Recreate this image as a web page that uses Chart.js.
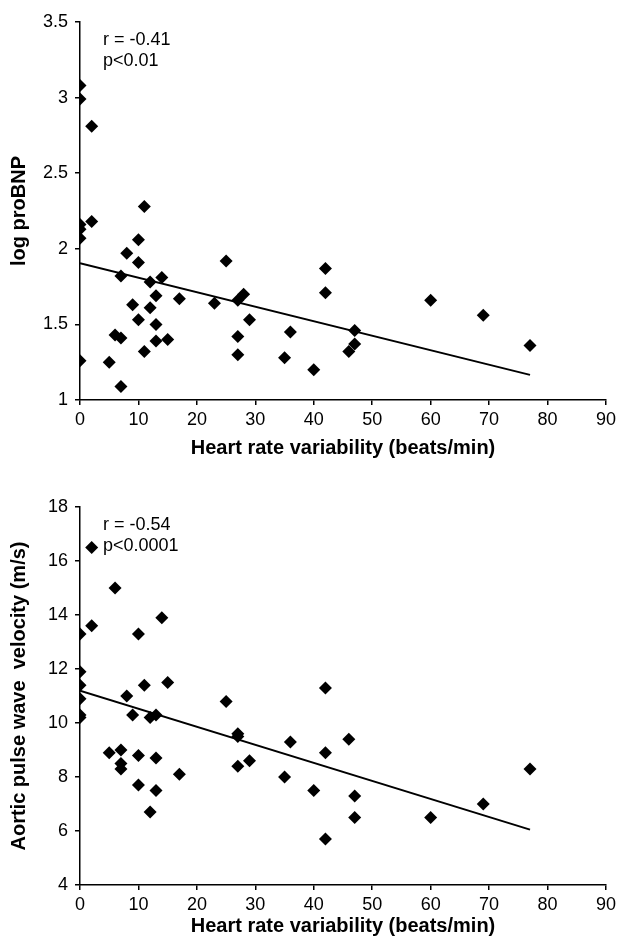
<!DOCTYPE html>
<html>
<head>
<meta charset="utf-8">
<script src="https://cdn.jsdelivr.net/npm/chart.js@4.4.0/dist/chart.umd.min.js"></script>
<style>
    body { margin: 0; background: #fff; }
    .wrap { position: absolute; left: 0; width: 620px; height: 460px; }
    #top { top: 0; }
    #bottom { top: 485px; }
</style>
</head>
<body>
<div class="wrap" id="top"><canvas id="bnpChart"></canvas></div>
<div class="wrap" id="bottom"><canvas id="pwvChart"></canvas></div>
<script>
// Heart rate variability (beats/min) vs log proBNP
const hrvBnp = [0, 0, 2, 0, 0, 0, 2, 0, 11, 10, 8, 10, 7, 14, 12, 13, 9, 12, 10, 13, 11, 6, 7, 5, 13, 15, 7,
    17, 23, 25, 27, 28, 27, 27, 29, 35, 36, 40, 42, 42, 47, 47, 46, 60, 69, 77];
const logProBnp = [3.08, 2.99, 2.81, 2.16, 2.13, 2.07, 2.18, 1.26, 2.28, 2.06, 1.97, 1.91, 1.82, 1.81, 1.78, 1.69, 1.63, 1.61, 1.53, 1.50, 1.32, 1.43, 1.41, 1.25, 1.39, 1.40, 1.09,
    1.67, 1.64, 1.92, 1.66, 1.70, 1.42, 1.30, 1.53, 1.28, 1.45, 1.20, 1.87, 1.71, 1.46, 1.37, 1.32, 1.66, 1.56, 1.36];
const bnpFitX = [0, 77];
const bnpFitY = [1.905, 1.166];

// Heart rate variability (beats/min) vs aortic pulse wave velocity (m/s)
const hrvPwv = [0, 0, 0, 0, 0, 0, 2, 2, 6, 10, 14, 15, 11, 8, 9, 12, 13, 5, 7, 7, 7, 10, 13, 10, 13, 12,
    17, 25, 27, 27, 27, 29, 35, 36, 40, 42, 42, 42, 46, 47, 47, 60, 69, 77];
const pwv = [11.9, 11.4, 10.9, 10.3, 10.2, 13.3, 16.5, 13.6, 15.0, 13.3, 13.9, 11.5, 11.4, 11.0, 10.3, 10.2, 10.3, 8.9, 9.0, 8.5, 8.3, 8.8, 8.7, 7.7, 7.5, 6.7,
    8.1, 10.8, 9.6, 9.5, 8.4, 8.6, 8.0, 9.3, 7.5, 11.3, 8.9, 5.7, 9.4, 7.3, 6.5, 6.5, 7.0, 8.3];
const pwvFitX = [0, 77];
const pwvFitY = [11.2, 6.05];

const xTitle = 'Heart rate variability (beats/min)';
const FONT = '"Liberation Sans", Arial, sans-serif';

Chart.defaults.font.family = FONT;
Chart.defaults.color = '#000';

const toPoints = (xs, ys) => xs.map((x, i) => ({ x: x, y: ys[i] }));

// draws the r / p text in the upper left of the plot
const statsLabel = {
    id: 'statsLabel',
    afterDraw(chart, args, opts) {
        const ctx = chart.ctx;
        const area = chart.chartArea;
        ctx.save();
        ctx.font = '18px ' + FONT;
        ctx.fillStyle = '#000';
        ctx.textBaseline = 'middle';
        opts.lines.forEach((line, i) => {
            ctx.fillText(line, area.left + 23, area.top + 18 + i * 21);
        });
        ctx.restore();
    }
};

function makeChart(id, xs, ys, fitX, fitY, yMin, yMax, yStep, yTitle, lines, titleGap) {
    return new Chart(document.getElementById(id), {
        type: 'scatter',
        data: {
            datasets: [{
                data: toPoints(xs, ys),
                pointStyle: 'rectRot',
                pointRadius: 6.5,
                pointHoverRadius: 6.5,
                backgroundColor: '#000',
                borderColor: '#000',
                borderWidth: 0
            }, {
                type: 'line',
                data: toPoints(fitX, fitY),
                borderColor: '#000',
                borderWidth: 2,
                pointRadius: 0,
                fill: false
            }]
        },
        options: {
            responsive: true,
            maintainAspectRatio: false,
            animation: false,
            layout: { padding: { top: 22, right: 13, left: 7, bottom: 0 } },
            plugins: {
                legend: { display: false },
                tooltip: { enabled: false },
                statsLabel: { lines: lines }
            },
            scales: {
                x: {
                    type: 'linear',
                    min: 0,
                    max: 90,
                    ticks: { stepSize: 10, font: { size: 18 }, padding: 4, maxRotation: 0 },
                    grid: { drawOnChartArea: false, tickLength: 5, color: '#000', lineWidth: 1.5 },
                    border: { color: '#000', width: 1.5 },
                    title: { display: true, text: xTitle, font: { size: 20, weight: 'bold' }, padding: { top: 0, bottom: titleGap } },
                    afterFit: s => { s.height = 60; }
                },
                y: {
                    min: yMin,
                    max: yMax,
                    ticks: {
                        stepSize: yStep,
                        font: { size: 18 },
                        padding: 7,
                        callback: v => String(Math.round(v * 10) / 10)
                    },
                    grid: { drawOnChartArea: false, tickLength: 5, color: '#000', lineWidth: 1.5 },
                    border: { color: '#000', width: 1.5 },
                    title: { display: true, text: yTitle, font: { size: 20, weight: 'bold' }, padding: 0 },
                    afterFit: s => { s.width = 73; }
                }
            }
        },
        plugins: [statsLabel]
    });
}

makeChart('bnpChart', hrvBnp, logProBnp, bnpFitX, bnpFitY, 1, 3.5, 0.5, 'log proBNP', ['r = -0.41', 'p<0.01'], 0);
makeChart('pwvChart', hrvPwv, pwv, pwvFitX, pwvFitY, 4, 18, 2, 'Aortic pulse wave  velocity (m/s)', ['r = -0.54', 'p<0.0001'], 7);
</script>
</body>
</html>
